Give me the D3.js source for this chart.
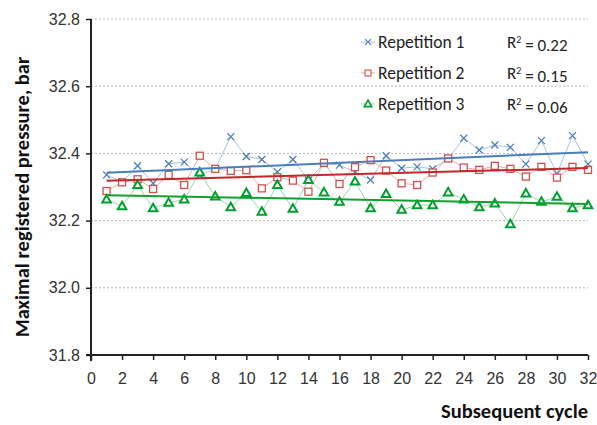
<!DOCTYPE html>
<html>
<head>
<meta charset="utf-8">
<script src="https://cdn.jsdelivr.net/npm/d3@7"></script>
<style>
  body { margin: 0; background: #fff; }
  svg { display: block; font-family: Carlito, Lato, "Open Sans", sans-serif; }
</style>
</head>
<body>
<div id="chart"></div>
<script>
var cycles = [1, 2, 3, 4, 5, 6, 7, 8, 9, 10, 11, 12, 13, 14, 15, 16,
  17, 18, 19, 20, 21, 22, 23, 24, 25, 26, 27, 28, 29, 30, 31, 32]

var rep1 = [32.336, 32.315, 32.363, 32.311, 32.369, 32.374, 32.335, 32.354,
  32.450, 32.391, 32.382, 32.345, 32.382, 32.320, 32.370, 32.365,
  32.345, 32.321, 32.393, 32.356, 32.360, 32.354, 32.385, 32.445,
  32.410, 32.425, 32.418, 32.368, 32.438, 32.339, 32.453, 32.368]

var rep2 = [32.288, 32.314, 32.323, 32.294, 32.336, 32.306, 32.393, 32.354,
  32.348, 32.350, 32.296, 32.329, 32.319, 32.286, 32.372, 32.309,
  32.359, 32.380, 32.349, 32.311, 32.306, 32.343, 32.385, 32.358,
  32.351, 32.363, 32.354, 32.331, 32.360, 32.328, 32.360, 32.351]

var rep3 = [32.263, 32.243, 32.306, 32.237, 32.253, 32.263, 32.343, 32.272,
  32.240, 32.282, 32.226, 32.306, 32.235, 32.321, 32.284, 32.256,
  32.316, 32.237, 32.279, 32.232, 32.246, 32.246, 32.284, 32.263,
  32.240, 32.251, 32.189, 32.281, 32.256, 32.271, 32.237, 32.246]

var seriesNames = ["Repetition 1", "Repetition 2", "Repetition 3"]
var r2Labels = ["0.22", "0.15", "0.06"]

var xTicks = [0, 2, 4, 6, 8, 10, 12, 14, 16, 18, 20, 22, 24, 26, 28, 30, 32]
var yTicks = [31.8, 32.0, 32.2, 32.4, 32.6, 32.8]

var styles = [
  { marker: "cross", color: "#4a7ebb", line: "#a9c2de", trend: "#4a7ebb" },
  { marker: "square", color: "#d0504d", line: "#eaaaa8", trend: "#c0282a" },
  { marker: "triangle", color: "#00a030", line: "#9fd4a8", trend: "#10a030" }
]

var width = 597, height = 425
var margin = { top: 19, right: 9, bottom: 70, left: 91 }

var svg = d3.select("#chart").append("svg")
  .attr("width", width)
  .attr("height", height)

var x = d3.scaleLinear().domain([0, 32]).range([margin.left, width - margin.right])
var y = d3.scaleLinear().domain([31.8, 32.8]).range([height - margin.bottom, margin.top])

// grid
svg.append("g")
  .selectAll("line")
  .data(yTicks.slice(1))
  .enter()
  .append("line")
  .attr("x1", x(0))
  .attr("x2", x(32))
  .attr("y1", function(d) { return y(d) })
  .attr("y2", function(d) { return y(d) })
  .attr("stroke", "#b8b8b8")
  .attr("stroke-width", 1)
  .attr("stroke-dasharray", "2,2")

var series = [rep1, rep2, rep3].map(function(vals, i) {
  return {
    name: seriesNames[i],
    style: styles[i],
    points: vals.map(function(v, j) { return { x: cycles[j], y: v } })
  }
})

function fit(points) {
  var mx = d3.mean(points, function(d) { return d.x })
  var my = d3.mean(points, function(d) { return d.y })
  var sxy = d3.sum(points, function(d) { return (d.x - mx) * (d.y - my) })
  var sxx = d3.sum(points, function(d) { return (d.x - mx) * (d.x - mx) })
  var b = sxy / sxx
  return function(t) { return my + b * (t - mx) }
}

var line = d3.line()
  .x(function(d) { return x(d.x) })
  .y(function(d) { return y(d.y) })

function drawMarker(g, type, color) {
  if (type === "cross") {
    g.append("path")
      .attr("d", "M-3.5,-3.5L3.5,3.5M-3.5,3.5L3.5,-3.5")
      .attr("stroke", color)
      .attr("stroke-width", 1.3)
      .attr("fill", "none")
  } else if (type === "square") {
    g.append("rect")
      .attr("x", -3.5).attr("y", -3.5)
      .attr("width", 7).attr("height", 7)
      .attr("fill", "#fff")
      .attr("stroke", color)
      .attr("stroke-width", 1.3)
  } else {
    g.append("path")
      .attr("d", "M0,-4.5L4.3,3L-4.3,3Z")
      .attr("fill", "#fff")
      .attr("stroke", color)
      .attr("stroke-width", 2)
  }
}

// connecting lines
series.forEach(function(s) {
  svg.append("path")
    .datum(s.points)
    .attr("d", line)
    .attr("fill", "none")
    .attr("stroke", s.style.line)
    .attr("stroke-width", 1)
})

// markers
series.forEach(function(s) {
  svg.append("g")
    .selectAll("g")
    .data(s.points)
    .enter()
    .append("g")
    .attr("transform", function(d) { return "translate(" + x(d.x) + "," + y(d.y) + ")" })
    .each(function() { drawMarker(d3.select(this), s.style.marker, s.style.color) })
})

// trend lines
series.forEach(function(s) {
  var f = fit(s.points)
  svg.append("line")
    .attr("x1", x(cycles[0]))
    .attr("x2", x(cycles[cycles.length - 1]))
    .attr("y1", y(f(cycles[0])))
    .attr("y2", y(f(cycles[cycles.length - 1])))
    .attr("stroke", s.style.trend)
    .attr("stroke-width", 2)
})

// axes
var xAxis = svg.append("g")
  .attr("transform", "translate(0," + y(31.8) + ")")
  .call(d3.axisBottom(x).tickValues(xTicks).tickSize(5).tickPadding(13)
    .tickFormat(d3.format("d")))
xAxis.select(".domain").attr("d", "M" + (x(0) - 5) + ",0H" + x(32)).attr("stroke", "#222").attr("stroke-width", 2)
xAxis.selectAll(".tick line").attr("stroke", "#222").attr("stroke-width", 1.5)
xAxis.selectAll("text").style("font-size", "16px").style("fill", "#333")

var yAxis = svg.append("g")
  .attr("transform", "translate(" + x(0) + ",0)")
  .call(d3.axisLeft(y).tickValues(yTicks).tickSize(5).tickPadding(6)
    .tickFormat(d3.format(".1f")))
yAxis.select(".domain").attr("d", "M0," + y(32.8) + "V" + (y(31.8) + 6)).attr("stroke", "#222").attr("stroke-width", 2)
yAxis.selectAll(".tick line").attr("stroke", "#222").attr("stroke-width", 1.5)
yAxis.selectAll("text").style("font-size", "16px").style("fill", "#333")

svg.append("text")
  .attr("transform", "translate(29," + 197 + ") rotate(-90)")
  .attr("text-anchor", "middle")
  .style("font-size", "20.5px")
  .style("font-weight", "bold")
  .style("fill", "#111")
  .text("Maximal registered pressure, bar")

svg.append("text")
  .attr("x", x(32))
  .attr("y", 418)
  .attr("text-anchor", "end")
  .style("font-size", "20.5px")
  .style("font-weight", "bold")
  .style("fill", "#111")
  .text("Subsequent cycle")

// legend
var legend = svg.append("g")
  .selectAll("g")
  .data(series)
  .enter()
  .append("g")
  .attr("transform", function(d, i) { return "translate(368," + (42 + i * 31) + ")" })

legend.append("line")
  .attr("x1", -7).attr("x2", 7)
  .attr("stroke", function(d) { return d.style.line })
  .attr("stroke-width", 1)
legend.each(function(d) {
  var g = d3.select(this).append("g").attr("transform", "scale(0.85)")
  drawMarker(g, d.style.marker, d.style.color)
})
legend.append("text")
  .attr("x", 10)
  .attr("dy", "0.35em")
  .style("font-size", "17.5px")
  .style("fill", "#222")
  .text(function(d) { return d.name })

var r2 = legend.append("text")
  .attr("x", 139)
  .attr("dy", "0.35em")
  .style("font-size", "17px")
  .style("fill", "#222")
r2.append("tspan").text("R")
r2.append("tspan").attr("dy", "-0.45em").style("font-size", "10px").text("2")
r2.append("tspan").attr("dy", "0.45em").text(function(d, i) { return " = " + r2Labels[i] })
</script>
</body>
</html>
